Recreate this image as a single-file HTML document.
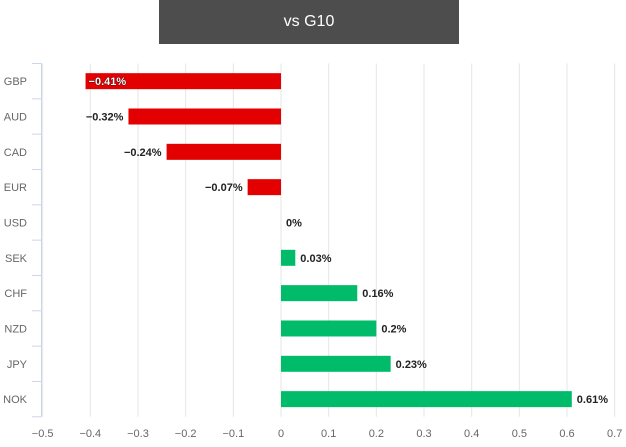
<!DOCTYPE html>
<html><head><meta charset="utf-8"><style>
body{margin:0;background:#fff;font-family:"Liberation Sans",sans-serif}
#title{position:absolute;left:159px;top:0;width:300px;height:44px;background:#4d4d4d;color:#fff;font-size:16px;line-height:44px;text-align:center}
</style></head><body>
<div id="title">vs G10</div>
<svg id="chart" width="626" height="447" style="position:absolute;left:0;top:0"></svg>
<script>
const categories=["GBP","AUD","CAD","EUR","USD","SEK","CHF","NZD","JPY","NOK"];
const values=[-0.41,-0.32,-0.24,-0.07,0,0.03,0.16,0.2,0.23,0.61];
const labels=["−0.41%","−0.32%","−0.24%","−0.07%","0%","0.03%","0.16%","0.2%","0.23%","0.61%"];
const ticks=[-0.5,-0.4,-0.3,-0.2,-0.1,0,0.1,0.2,0.3,0.4,0.5,0.6,0.7];
const tickLabels=["−0.5","−0.4","−0.3","−0.2","−0.1","0","0.1","0.2","0.3","0.4","0.5","0.6","0.7"];
const svg=document.getElementById('chart');const NS='http://www.w3.org/2000/svg';
const x=v=>281+v*476.7;const top0=63.5,band=35.33;const yc=i=>top0+band*(i+0.5);
function mk(t,a,txt){const e=document.createElementNS(NS,t);for(const k in a)e.setAttribute(k,a[k]);if(txt!==undefined)e.textContent=txt;svg.appendChild(e);return e;}
ticks.forEach((t,i)=>{
 const g=mk('line',{x1:x(t),x2:x(t),y1:top0,y2:top0+band*10,stroke:'#e6e6e6'});
 
 const l=mk('text',{x:x(t),y:437,'text-anchor':'middle','font-size':11,fill:'#666'},tickLabels[i]);
 
});
const ax=mk('line',{x1:41.5,x2:41.5,y1:top0,y2:top0+band*10,stroke:'#ccd6eb'});

for(let i=0;i<=10;i++){const tk=mk('line',{x1:32,x2:41.5,y1:top0+band*i,y2:top0+band*i,stroke:'#ccd6eb'});
 }
categories.forEach((c,i)=>{
 const cl=mk('text',{x:27,y:yc(i)+4,'text-anchor':'end','font-size':11,fill:'#666'},c);
 
 const v=values[i];const x0=Math.min(x(0),x(v)),w=Math.abs(x(v)-x(0));
 const b=mk('rect',{x:x0,y:yc(i)-8,width:w,height:16,fill:v<0?'#e30000':'#00bb6a'});
 
 let t;
 if(v<-0.38){t=mk('text',{x:x(v)+3,y:yc(i)+4,'font-size':11,'font-weight':'bold',fill:'#fff',stroke:'#000','stroke-width':0.6,'paint-order':'stroke'},labels[i]);}
 else if(v<0){t=mk('text',{x:x(v)-5,y:yc(i)+4,'text-anchor':'end','font-size':11,'font-weight':'bold',fill:'#222'},labels[i]);}
 else{t=mk('text',{x:x(v)+5,y:yc(i)+4,'font-size':11,'font-weight':'bold',fill:'#222'},labels[i]);}
 
});
</script>
</body></html>
